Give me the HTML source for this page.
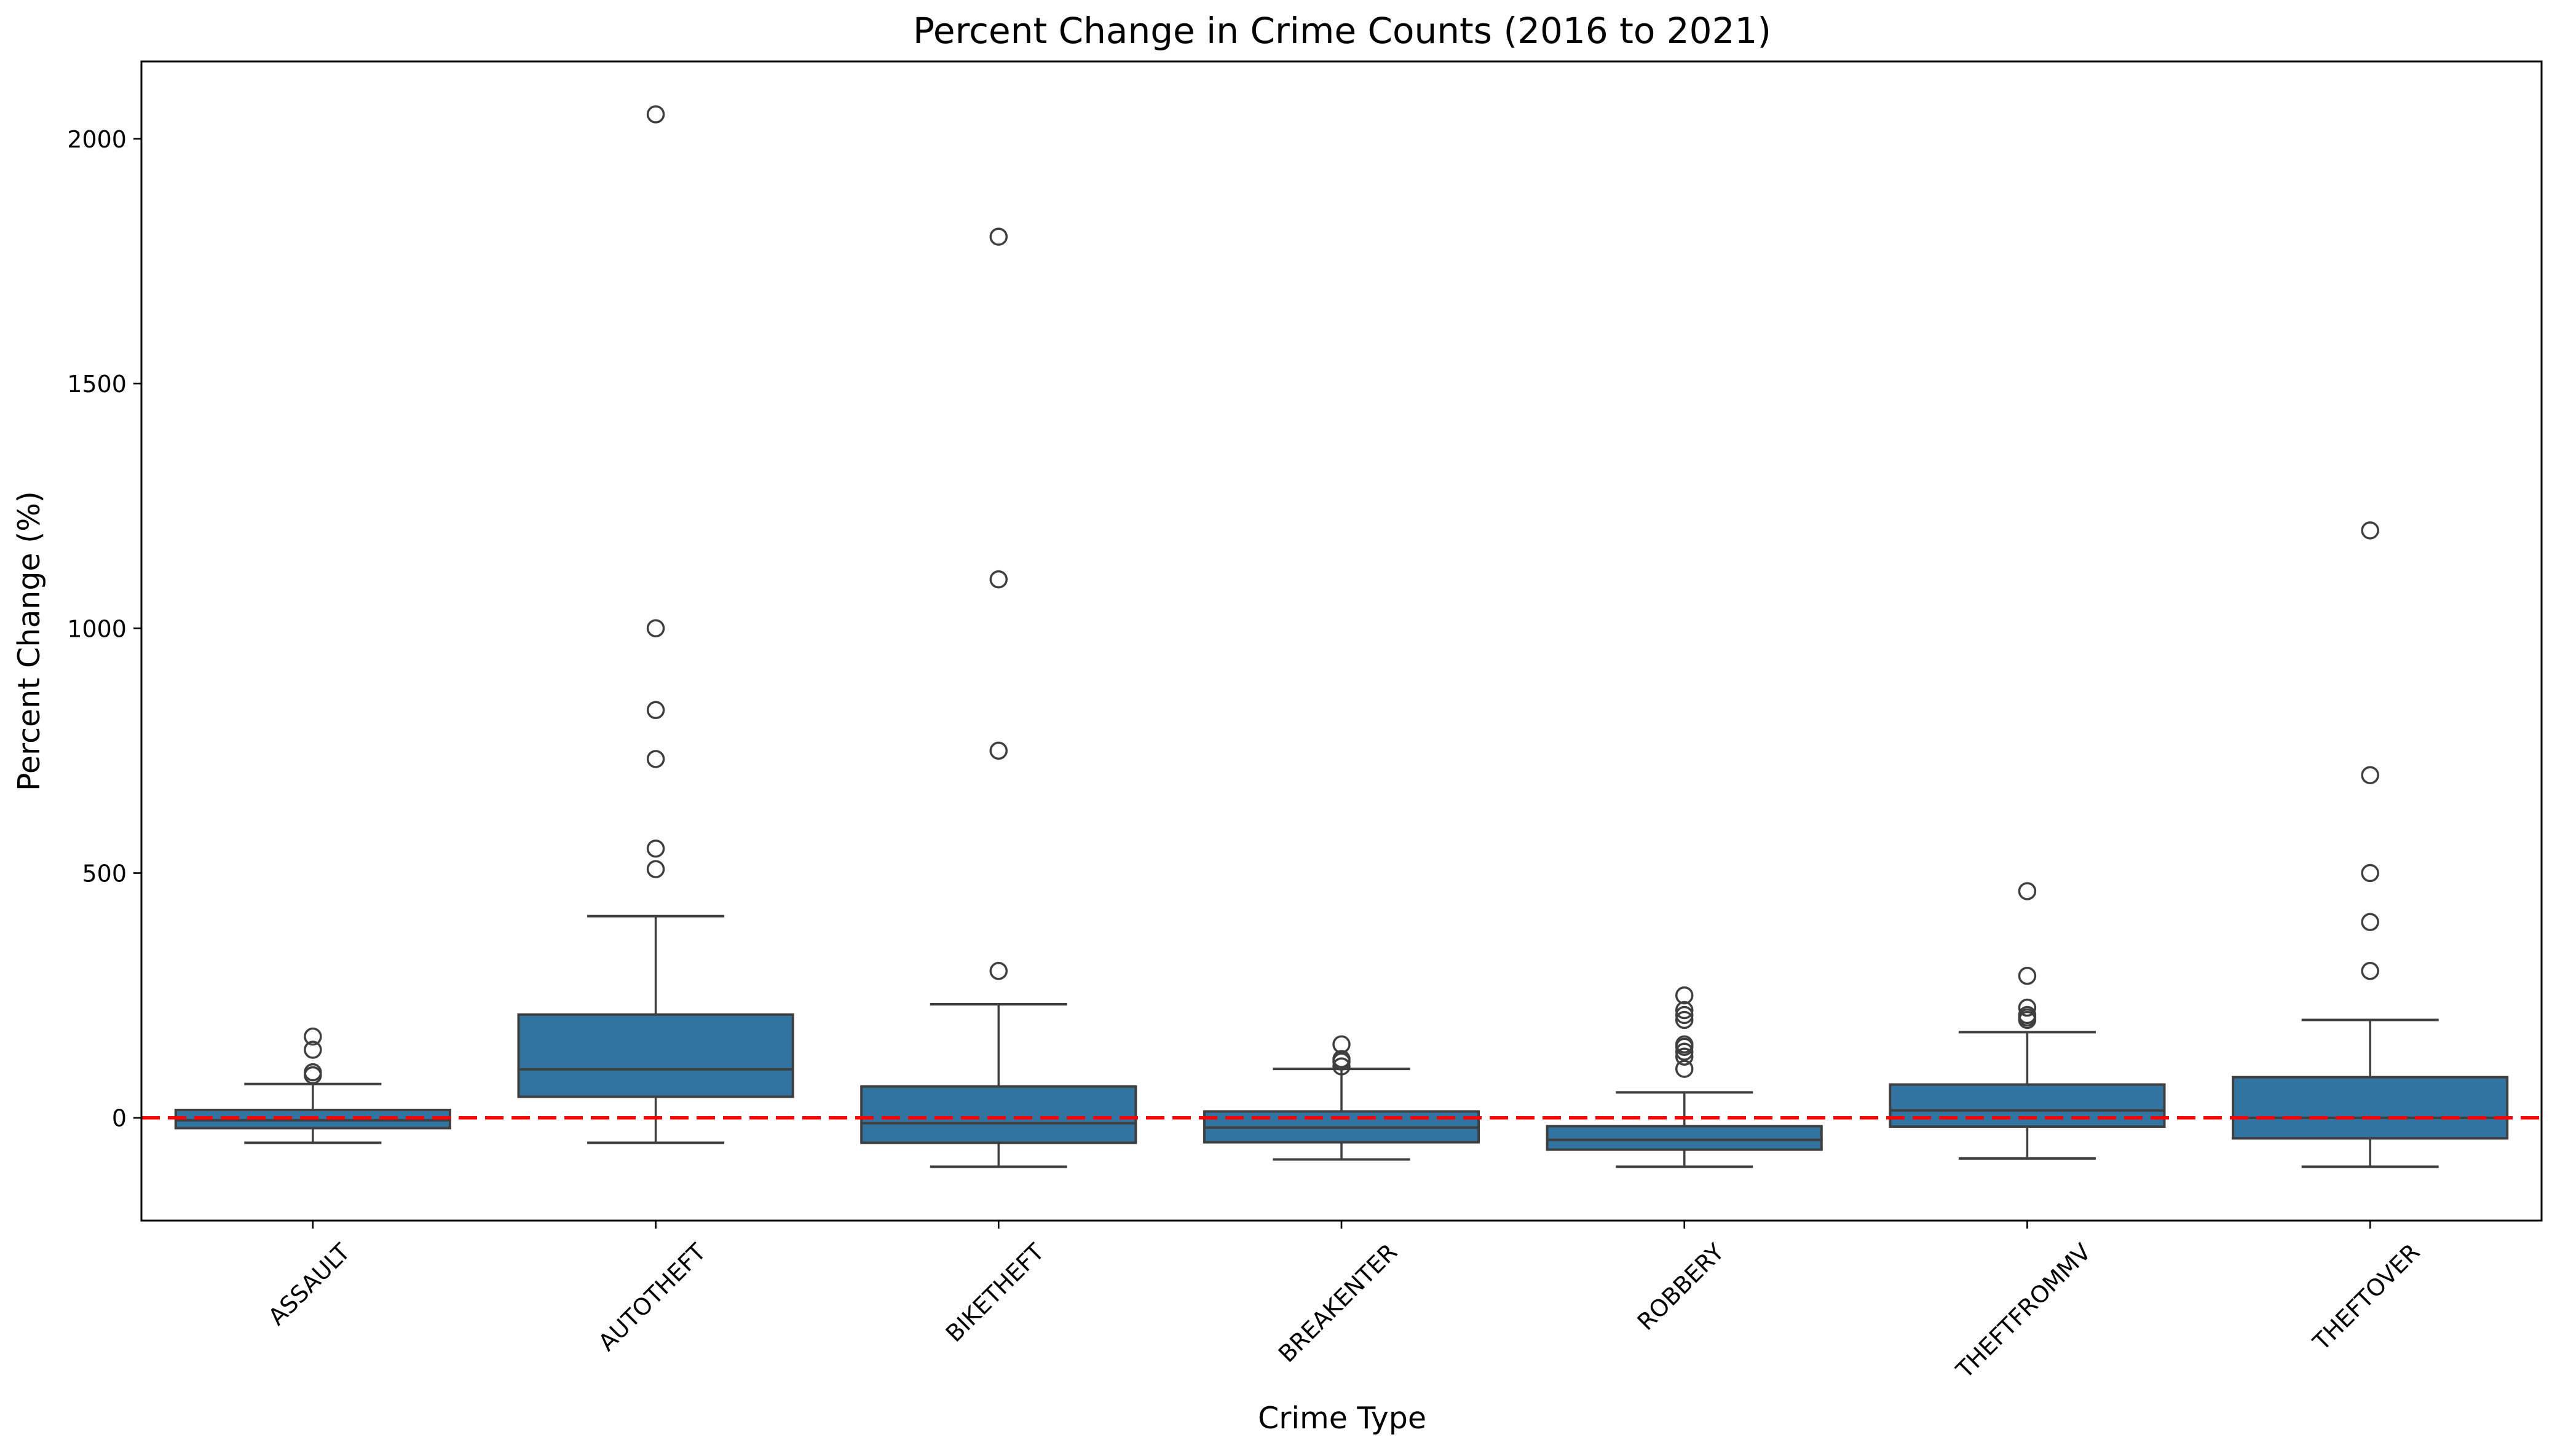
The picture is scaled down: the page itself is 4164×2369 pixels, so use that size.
<!DOCTYPE html>
<html><head><meta charset="utf-8"><style>
body{margin:0;background:#fff}
text{font-family:"DejaVu Sans","Liberation Sans",sans-serif;fill:#000}
</style></head><body>
<svg id="chart" width="4164" height="2364" viewBox="0 0 4164 2364" xmlns="http://www.w3.org/2000/svg">
<rect width="4164" height="2364" fill="#fff"/>
<text x="2183" y="70" font-size="58" text-anchor="middle">Percent Change in Crime Counts (2016 to 2021)</text>
<g id="plot"></g>
<text x="2183" y="2324" font-size="49" text-anchor="middle">Crime Type</text>
<text transform="translate(64,1043) rotate(-90)" font-size="49" text-anchor="middle">Percent Change (%)</text>
</svg>
<script>
const categories=["ASSAULT","AUTOTHEFT","BIKETHEFT","BREAKENTER","ROBBERY","THEFTFROMMV","THEFTOVER"];
const q1=[-21,43,-51,-50,-65,-18,-42];
const medians=[-5,99,-11,-20,-45,15,0];
const q3=[16,211,64,13,-17,68,83];
const whiskerLow=[-51,-51,-100,-85,-100,-83,-100];
const whiskerHigh=[69,412,232,100,52,175,200];
const outliers=[[87,93,139,166],[508,550,733,833,1000,2050],[300,750,1100,1800],[105,115,120,150],[100,125,135,145,150,200,210,220,250],[200,205,210,225,290,463],[300,400,500,700,1200]];
const yTicks=[0,500,1000,1500,2000];

const L=230,R=4134,T=100,B=1986;
const yMin=-210,yMax=2158;
const y=v=>B-(v-yMin)/(yMax-yMin)*(B-T);
const step=(R-L)/categories.length;
const x=i=>L+step*(i+0.5);
const NS="http://www.w3.org/2000/svg";
const g=document.getElementById('plot');
function mk(t,a){const e=document.createElementNS(NS,t);for(const k in a)e.setAttribute(k,a[k]);g.appendChild(e);return e;}
const bw=step*0.8, cw=bw*0.5, ec="#3f3f3f";
categories.forEach((c,i)=>{
  const cx=x(i);
  let e=mk('line',{x1:cx,x2:cx,y1:y(q3[i]),y2:y(whiskerHigh[i]),stroke:ec,'stroke-width':3.5});
  
  
  e=mk('line',{x1:cx,x2:cx,y1:y(q1[i]),y2:y(whiskerLow[i]),stroke:ec,'stroke-width':3.5});
  
  
  e=mk('line',{x1:cx-cw/2,x2:cx+cw/2,y1:y(whiskerHigh[i]),y2:y(whiskerHigh[i]),stroke:ec,'stroke-width':4});
  
  
  e=mk('line',{x1:cx-cw/2,x2:cx+cw/2,y1:y(whiskerLow[i]),y2:y(whiskerLow[i]),stroke:ec,'stroke-width':4});
  
  
  e=mk('rect',{x:cx-bw/2,y:y(q3[i]),width:bw,height:y(q1[i])-y(q3[i]),fill:'#3274a1',stroke:ec,'stroke-width':4});
  
  
  e=mk('line',{x1:cx-bw/2,x2:cx+bw/2,y1:y(medians[i]),y2:y(medians[i]),stroke:ec,'stroke-width':4});
  
  
  outliers[i].forEach(v=>{
    const o=mk('circle',{cx:cx,cy:y(v),r:13,fill:'none',stroke:ec,'stroke-width':3.5});
    
    
  });
  e=mk('line',{x1:cx,x2:cx,y1:B,y2:B+13,stroke:'#000','stroke-width':2.6});
  
  
  const t=mk('text',{'font-size':38,'text-anchor':'middle'});
  t.textContent=c;
  
  
  const len=t.getComputedTextLength();
  const half=(len+38)*0.7071/2;
  const cy=2017+half;
  t.setAttribute('transform',`translate(${cx-6},${cy}) rotate(-45)`);
  t.setAttribute('y',13);
});
yTicks.forEach(v=>{
  let e=mk('line',{x1:L-13,x2:L,y1:y(v),y2:y(v),stroke:'#000','stroke-width':2.6});
  
  
  const t=mk('text',{x:L-24,y:y(v)+14,'font-size':38,'text-anchor':'end'});
  t.textContent=v;
  
  
});
let ref=mk('line',{x1:L,x2:R,y1:y(0),y2:y(0),stroke:'#ff0000','stroke-width':5.5,'stroke-dasharray':'30 13'});


let fr=mk('rect',{x:L,y:T,width:R-L,height:B-T,fill:'none',stroke:'#000','stroke-width':3});


</script>
</body></html>
